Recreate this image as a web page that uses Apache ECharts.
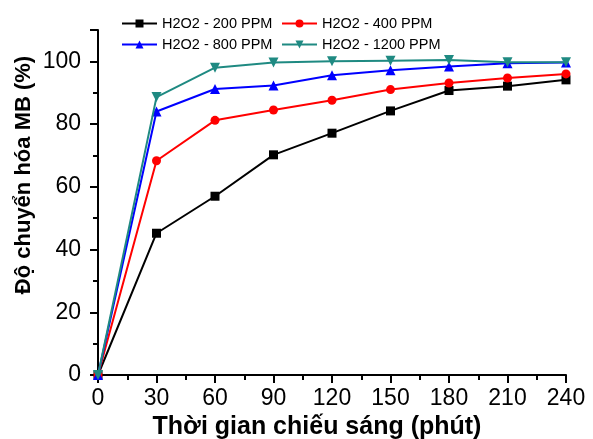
<!DOCTYPE html>
<html>
<head>
<meta charset="utf-8">
<script src="https://cdn.jsdelivr.net/npm/echarts@6/dist/echarts.min.js"></script>
<style>
html,body{margin:0;padding:0;background:#fff;}
#c{width:593px;height:439px;}
</style>
</head>
<body>
<div id="c"></div>
<script>
const times = [0, 30, 60, 90, 120, 150, 180, 210, 240];
const seriesNames = ['H2O2 - 200 PPM', 'H2O2 - 400 PPM', 'H2O2 - 800 PPM', 'H2O2 - 1200 PPM'];
const ppm200 = [0, 45.2, 57, 70.2, 77.1, 84.2, 90.7, 92.1, 94.1];
const ppm400 = [0, 68.3, 81.2, 84.5, 87.6, 91.0, 93.1, 94.7, 96.0];
const ppm800 = [0, 84.0, 91.2, 92.3, 95.6, 97.2, 98.4, 99.4, 99.6];
const ppm1200 = [0, 88.6, 98.0, 99.6, 100.0, 100.2, 100.4, 99.7, 99.7];
const xTitle = 'Thời gian chiếu sáng (phút)';
const yTitle = 'Độ chuyển hóa MB (%)';

const colors = ['#000000', '#ff0000', '#0000ff', '#1f8a82'];
const symbols = ['rect', 'circle', 'triangle', 'triangle'];
const rotates = [0, 0, 0, 180];
const sizes = [9, 9, 10, 10];
const values = [ppm200, ppm400, ppm800, ppm1200];

const FONT = '"Liberation Sans", Arial, sans-serif';
const chart = echarts.init(document.getElementById('c'));
const series = values.map((v, i) => ({
  name: seriesNames[i],
  type: 'line',
  data: times.map((t, j) => [t, v[j]]),
  symbol: symbols[i],
  symbolRotate: rotates[i],
  symbolSize: sizes[i],
  showAllSymbol: true,
  clip: false,
  itemStyle: { color: colors[i] },
  lineStyle: { color: colors[i], width: 2 },
  z: 2 + i
}));

const legendPos = [[121, 16], [281, 16], [121, 37], [281, 37]];
const legends = seriesNames.map((n, i) => ({
  left: legendPos[i][0],
  top: legendPos[i][1],
  orient: 'horizontal',
  itemWidth: 35,
  itemHeight: 10,
  padding: 0,
  textStyle: { fontFamily: FONT, fontSize: 14.5, color: '#000' },
  data: [n]
}));

chart.setOption({
  animation: false,
  backgroundColor: '#fff',
  color: colors,
  legend: legends,
  grid: { left: 98, right: 27, top: 30, bottom: 64, containLabel: false, outerBoundsMode: 'none' },
  xAxis: {
    type: 'value',
    min: 0, max: 240, interval: 30,
    name: xTitle,
    nameLocation: 'middle',
    nameGap: 40,
    nameTextStyle: { fontFamily: FONT, fontSize: 25, fontWeight: 'bold', color: '#000', padding: [0, 30, 0, 0] },
    axisLine: { lineStyle: { color: '#000', width: 2 } },
    axisTick: { show: true, inside: false, length: 8, lineStyle: { color: '#000', width: 2 } },
    minorTick: { show: true, splitNumber: 2, length: 5, lineStyle: { color: '#000', width: 2 } },
    axisLabel: { fontFamily: FONT, fontSize: 23, color: '#000', margin: 12 },
    splitLine: { show: false }
  },
  yAxis: {
    type: 'value',
    min: 0, max: 110, interval: 20,
    axisLine: { show: true, lineStyle: { color: '#000', width: 2 } },
    axisTick: { show: true, inside: false, length: 8, lineStyle: { color: '#000', width: 2 } },
    minorTick: { show: true, splitNumber: 2, length: 5, lineStyle: { color: '#000', width: 2 } },
    axisLabel: { fontFamily: FONT, fontSize: 23, color: '#000', margin: 17,
      formatter: v => (v > 100 ? '' : String(v)) },
    splitLine: { show: false }
  },
  graphic: [{
    type: 'text',
    x: 24, y: 175,
    rotation: Math.PI / 2,
    style: {
      text: yTitle,
      fontFamily: FONT, fontSize: 22, fontWeight: 'bold', fill: '#000',
      align: 'center', verticalAlign: 'middle'
    }
  }],
  series: series
});
</script>
</body>
</html>
